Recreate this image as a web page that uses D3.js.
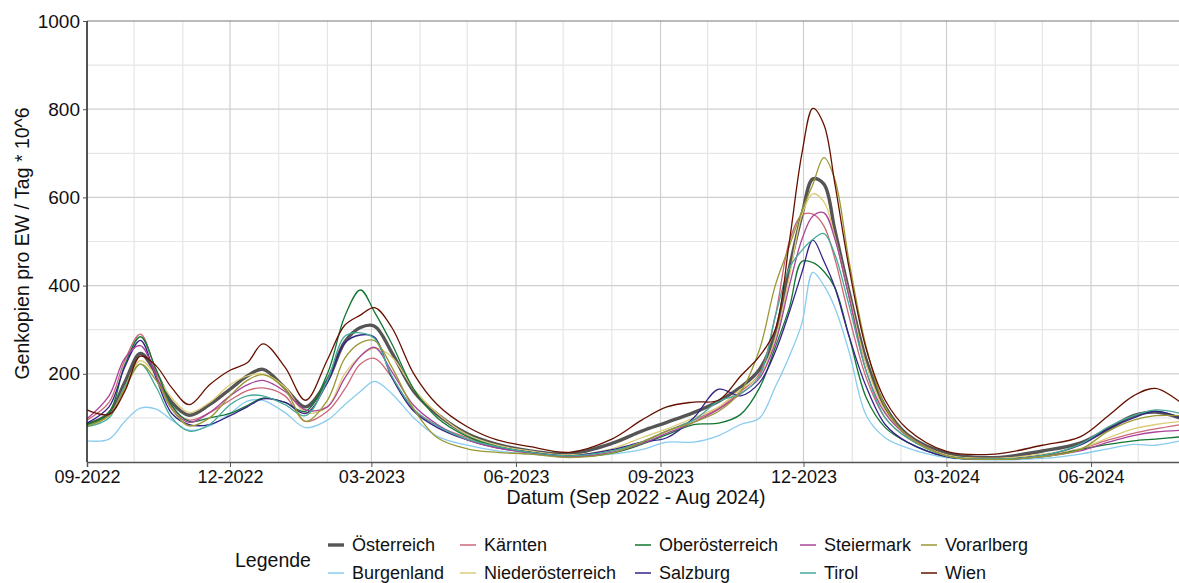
<!DOCTYPE html>
<html>
<head>
<meta charset="utf-8">
<script src="https://cdn.jsdelivr.net/npm/d3@7"></script>
<style>
  body { margin: 0; background: #fff; overflow: hidden; }
  svg { display: block; font-family: "Liberation Sans", Arial, sans-serif; }
</style>
</head>
<body>
<svg id="chart"></svg>
<script>
// sample dates (roughly 10 days apart where the curves move, wider where flat)
const dates = ["2022-09-01","2022-09-15","2022-09-25","2022-10-05","2022-10-15","2022-10-25","2022-11-05","2022-11-18",
  "2022-12-01","2022-12-12","2022-12-22","2023-01-05","2023-01-18","2023-02-01","2023-02-12","2023-02-22",
  "2023-03-03","2023-03-14","2023-03-28","2023-04-12","2023-05-01","2023-05-20","2023-06-10","2023-07-05",
  "2023-08-01","2023-08-20","2023-09-05","2023-09-22","2023-10-08","2023-10-22","2023-11-03","2023-11-13",
  "2023-11-22","2023-11-30","2023-12-07","2023-12-14","2023-12-21","2023-12-30","2024-01-10","2024-01-22",
  "2024-02-05","2024-03-01","2024-04-01","2024-05-01","2024-05-25","2024-06-12","2024-06-28","2024-07-12","2024-07-28"];

const oesterreich = [85,110,180,246,200,135,106,130,165,195,210,168,125,185,272,305,308,248,160,108,64,40,25,18,42,70,90,112,138,170,210,290,440,560,642,630,525,385,230,125,62,20,10,25,43,75,105,113,99];
const burgenland = [48,52,92,122,120,95,72,82,110,138,140,112,78,95,130,160,183,155,100,58,38,25,18,12,18,28,45,45,60,85,100,170,240,315,430,400,350,250,105,55,32,10,5,8,18,30,40,38,48];
const kaernten = [95,135,230,290,205,125,95,112,140,162,168,150,92,115,165,222,235,192,118,82,55,35,22,15,25,45,70,95,122,160,200,330,500,560,562,535,460,330,190,100,55,15,8,15,30,50,65,75,85];
const niederoesterreich = [82,105,170,230,195,145,112,135,175,195,200,170,112,125,200,240,258,238,165,110,62,38,25,16,30,55,75,100,125,165,195,280,420,560,608,590,510,380,220,115,60,16,8,18,30,55,75,85,92];
const oberoesterreich = [85,112,220,284,210,128,92,100,110,128,145,135,115,200,330,390,340,268,165,100,58,35,22,12,20,40,62,85,88,108,168,260,350,455,452,432,395,285,145,78,45,12,6,12,28,40,48,52,57];
const salzburg = [88,125,215,276,190,110,85,85,105,125,143,135,110,180,270,288,283,192,115,78,50,32,22,14,28,45,55,100,165,150,180,250,340,430,503,455,395,285,170,85,45,12,6,15,38,75,100,115,100];
const steiermark = [98,150,235,264,195,120,90,112,150,175,185,160,118,125,190,240,260,205,128,85,50,32,20,12,22,42,65,90,120,155,190,270,400,505,558,565,505,375,205,110,60,14,6,12,25,45,60,68,72];
const tirol = [80,100,170,222,170,100,70,85,130,150,150,130,105,185,285,293,280,195,120,82,52,35,22,14,25,45,70,95,138,155,195,330,440,480,505,518,470,355,205,100,55,14,7,15,40,80,105,118,110];
const vorarlberg = [82,105,165,222,185,120,82,100,150,185,198,165,92,140,235,270,275,215,120,55,30,22,18,10,20,45,70,90,115,160,255,400,490,570,630,690,640,455,260,125,60,14,6,12,28,70,95,105,105];
const wien = [118,108,160,240,218,168,130,175,208,225,268,215,140,232,310,333,350,305,200,130,80,50,35,22,52,95,125,136,140,195,240,300,500,700,802,765,630,440,255,140,75,24,18,38,57,105,150,167,135];

const names = ["Österreich","Burgenland","Kärnten","Niederösterreich","Oberösterreich","Salzburg","Steiermark","Tirol","Vorarlberg","Wien"];
const colors = ["#555555","#88ccee","#cc6677","#ddcc77","#117733","#332288","#aa4499","#44aa99","#999933","#661100"];
const yTicks = [200, 400, 600, 800, 1000];

let width = 1179;
let height = 583;
let plotLeft = 87, plotTop = 21, plotBottom = 462;

const parse = d3.utcParse("%Y-%m-%d");
let xStart = parse("2022-09-01");
let xEnd = parse("2024-08-01");

let svg = d3.select("#chart")
    .attr("width", width)
    .attr("height", height);

// 1.571 px per day, the last month runs past the window edge
let x = d3.scaleUtc()
    .domain([xStart, xEnd])
    .range([plotLeft, plotLeft + d3.utcDay.count(xStart, xEnd) * 1.5713]);

let y = d3.scaleLinear()
    .domain([0, 1000])
    .range([plotBottom, plotTop]);

let series = [oesterreich, burgenland, kaernten, niederoesterreich, oberoesterreich,
    salzburg, steiermark, tirol, vorarlberg, wien].map((vals, i) => ({
    name: names[i],
    color: colors[i],
    values: vals.map((v, j) => ({ date: parse(dates[j]), value: v }))
}));

// grid
let months = d3.utcMonth.range(xStart, xEnd);
let majorMonths = months.filter(d => d.getUTCMonth() % 3 === 2);
let grid = svg.append("g").attr("class", "grid");

grid.selectAll(".vminor")
    .data(months.filter(d => d.getUTCMonth() % 3 !== 2))
    .enter().append("line")
    .attr("x1", d => x(d)).attr("x2", d => x(d))
    .attr("y1", plotTop).attr("y2", plotBottom)
    .attr("stroke", "#e6e6e6").attr("stroke-width", 1.2);

grid.selectAll(".hminor")
    .data(d3.range(100, 1000, 200))
    .enter().append("line")
    .attr("x1", plotLeft).attr("x2", width)
    .attr("y1", d => y(d)).attr("y2", d => y(d))
    .attr("stroke", "#e6e6e6").attr("stroke-width", 1.2);

grid.selectAll(".vmajor")
    .data(majorMonths)
    .enter().append("line")
    .attr("x1", d => x(d)).attr("x2", d => x(d))
    .attr("y1", plotTop).attr("y2", plotBottom)
    .attr("stroke", "#cfcfcf").attr("stroke-width", 1.2);

grid.selectAll(".hmajor")
    .data(yTicks.slice(0, -1))
    .enter().append("line")
    .attr("x1", plotLeft).attr("x2", width)
    .attr("y1", d => y(d)).attr("y2", d => y(d))
    .attr("stroke", "#cfcfcf").attr("stroke-width", 1.2);

// top border
svg.append("line")
    .attr("x1", plotLeft).attr("x2", width)
    .attr("y1", y(1000)).attr("y2", y(1000))
    .attr("stroke", "#777").attr("stroke-width", 1.2);

// lines
let line = d3.line()
    .x(d => x(d.date))
    .y(d => y(d.value))
    .curve(d3.curveCatmullRom.alpha(0.5));

svg.append("g")
    .selectAll("path")
    .data(series)
    .enter().append("path")
    .attr("fill", "none")
    .attr("stroke", d => d.color)
    .attr("stroke-width", d => d.name === "Österreich" ? 3.4 : 1.3)
    .attr("stroke-linejoin", "round")
    .attr("d", d => line(d.values));

// axes
let xAxis = svg.append("g")
    .attr("transform", `translate(0,${plotBottom})`)
    .call(d3.axisBottom(x).tickValues(majorMonths).tickFormat(d3.utcFormat("%m-%Y")).tickSize(5).tickPadding(3));
xAxis.select(".domain").attr("stroke", "#555").attr("stroke-width", 1.5);
xAxis.selectAll(".tick line").attr("stroke", "#555");
xAxis.selectAll("text").attr("font-size", 18).attr("fill", "#111").attr("font-family", null);

let yAxis = svg.append("g")
    .attr("transform", `translate(${plotLeft},0)`)
    .call(d3.axisLeft(y).tickValues(yTicks).tickFormat(d3.format("d")).tickSize(4).tickPadding(3));
yAxis.select(".domain").attr("stroke", "#222").attr("stroke-width", 1.5).attr("d", `M0,${plotTop}V${plotBottom}`);
yAxis.selectAll(".tick line").attr("stroke", "#555");
yAxis.selectAll("text").attr("font-size", 19).attr("fill", "#111").attr("font-family", null);

svg.append("text")
    .attr("x", 636).attr("y", 504)
    .attr("text-anchor", "middle")
    .attr("font-size", 19.5)
    .attr("fill", "#111")
    .text("Datum (Sep 2022 - Aug 2024)");

svg.append("text")
    .attr("transform", `translate(29,${(plotTop + plotBottom) / 2 + 2}) rotate(-90)`)
    .attr("text-anchor", "middle")
    .attr("font-size", 19.5)
    .attr("fill", "#111")
    .text("Genkopien pro EW / Tag * 10^6");

// legend: two rows, filled column by column
let legend = svg.append("g");
legend.append("text")
    .attr("x", 235).attr("y", 560)
    .attr("dy", "0.35em")
    .attr("font-size", 19.5)
    .attr("fill", "#111")
    .text("Legende");

let rowY = [545, 573];
let colX = [328, 460, 635, 800, 921];
series.forEach((s, i) => {
    let lx = colX[Math.floor(i / 2)];
    let ly = rowY[i % 2];
    legend.append("line")
        .attr("x1", lx).attr("x2", lx + 16)
        .attr("y1", ly).attr("y2", ly)
        .attr("stroke", s.color)
        .attr("stroke-width", s.name === "Österreich" ? 3.4 : 1.5);
    legend.append("text")
        .attr("x", lx + 24).attr("y", ly)
        .attr("dy", "0.35em")
        .attr("font-size", 18)
        .attr("fill", "#111")
        .text(s.name);
});
</script>
</body>
</html>
